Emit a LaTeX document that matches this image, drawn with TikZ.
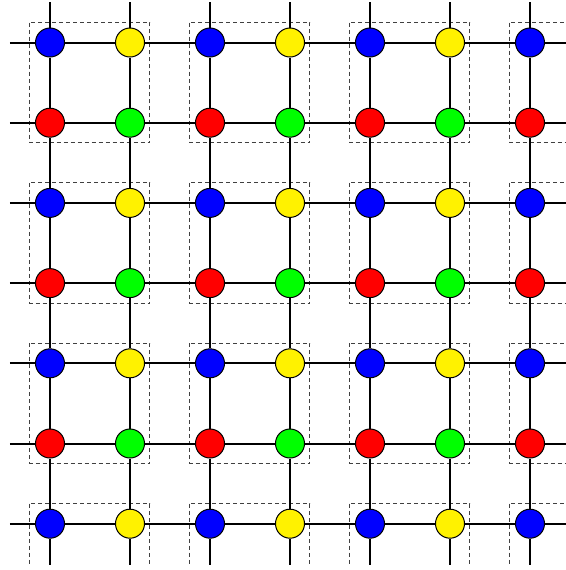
\documentclass[tikz,border=0pt]{standalone}
\usepackage{tikz}
\begin{document}
\begin{tikzpicture}[x=0.5pt, y=-0.5pt, site/.style={circle,draw,line width=0.5pt,minimum size=14.5pt,inner sep=0pt}, bond/.style={line width=1pt}, cell/.style={draw=black!75,dash pattern=on 2pt off 1.5pt,line width=0.5pt}]
\useasboundingbox (0,0) rectangle (566,570);
\clip (0,0) rectangle (566,565);
\foreach \i in {0,2,4,6} {
  \foreach \j in {0,2,4,6} {
    \draw[cell] ({30+80*\i},{22.5+80.2*\j}) rectangle ++(120,120.4);
  }
}
\foreach \j/\ca/\cb in {0/blue/yellow,1/red/green,2/blue/yellow,3/red/green,4/blue/yellow,5/red/green,6/blue/yellow} {
  \foreach \i in {0,2,4,6} \node[site,fill=\ca] (n-\i-\j) at ({50+80*\i},{42.5+80.2*\j}) {};
  \foreach \i in {1,3,5} \node[site,fill=\cb] (n-\i-\j) at ({50+80*\i},{42.5+80.2*\j}) {};
  \coordinate (w-\j) at (10,{42.5+80.2*\j});
  \coordinate (e-\j) at (570,{42.5+80.2*\j});
  \coordinate (t-\j) at ({50+80*\j},2);
  \coordinate (b-\j) at ({50+80*\j},565);
}
\foreach \j in {0,...,6} {
  \draw[bond] (w-\j) -- (n-0-\j);
  \draw[bond] (n-6-\j) -- (e-\j);
  \draw[bond] (t-\j) -- (n-\j-0);
  \draw[bond] (n-\j-6) -- (b-\j);
  \foreach \i/\k in {0/1,1/2,2/3,3/4,4/5,5/6} {
    \draw[bond] (n-\i-\j) -- (n-\k-\j);
    \draw[bond] (n-\j-\i) -- (n-\j-\k);
  }
}
\end{tikzpicture}
\end{document}
